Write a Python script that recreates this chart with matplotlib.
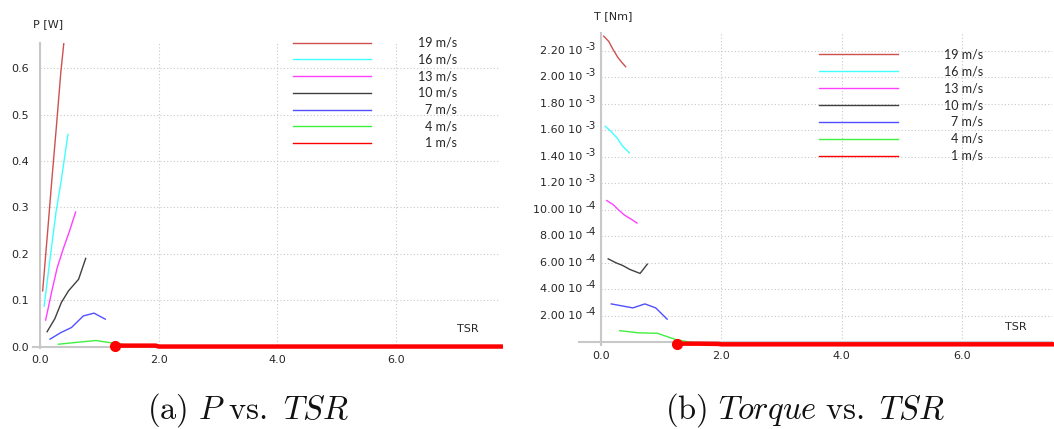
import matplotlib
matplotlib.use("Agg")
import matplotlib.pyplot as plt
from matplotlib.lines import Line2D
from matplotlib.transforms import offset_copy

plt.rcParams['font.family'] = ['DejaVu Sans']
plt.rcParams['mathtext.fontset'] = 'cm'

W, H = 1054, 429

# wind speeds (legend order) and colours
speeds = ["19 m/s", "16 m/s", "13 m/s", "10 m/s", "7 m/s", "4 m/s", "1 m/s"]
colors = ["#d05050", "#40ffff", "#ff40ff", "#404040", "#5050ff", "#40f040", "#ff0000"]

# TSR values for each wind speed
tsr_19 = [0.045, 0.13, 0.20, 0.28, 0.35, 0.41]
tsr_16 = [0.07, 0.17, 0.27, 0.36, 0.47]
tsr_13 = [0.095, 0.20, 0.29, 0.39, 0.50, 0.60]
tsr_10 = [0.12, 0.25, 0.36, 0.48, 0.65, 0.77]
tsr_7 = [0.17, 0.35, 0.53, 0.73, 0.91, 1.10]
tsr_4 = [0.31, 0.62, 0.94, 1.25, 1.56, 1.95]
tsr_1 = [1.27, 1.60, 1.95, 2.00, 4.00, 6.00, 7.80]

# power [W]
p_19 = [0.12, 0.25, 0.36, 0.48, 0.59, 0.665]
p_16 = [0.087, 0.19, 0.29, 0.36, 0.457]
p_13 = [0.057, 0.12, 0.17, 0.21, 0.25, 0.29]
p_10 = [0.032, 0.06, 0.095, 0.12, 0.145, 0.19]
p_7 = [0.016, 0.03, 0.041, 0.066, 0.072, 0.059]
p_4 = [0.005, 0.009, 0.013, 0.007, 0.002, 0.0]
p_1 = [0.002, 0.002, 0.002, 0.0, 0.0, 0.0, 0.0]

# torque [Nm]
t_19 = [2.31e-3, 2.27e-3, 2.21e-3, 2.15e-3, 2.11e-3, 2.08e-3]
t_16 = [1.63e-3, 1.59e-3, 1.54e-3, 1.48e-3, 1.43e-3]
t_13 = [1.07e-3, 1.04e-3, 1.00e-3, 0.96e-3, 0.93e-3, 0.90e-3]
t_10 = [0.63e-3, 0.60e-3, 0.58e-3, 0.55e-3, 0.52e-3, 0.59e-3]
t_7 = [0.29e-3, 0.275e-3, 0.26e-3, 0.29e-3, 0.26e-3, 0.175e-3]
t_4 = [0.088e-3, 0.072e-3, 0.068e-3, 0.02e-3, -0.005e-3, -0.005e-3]
t_1 = [-0.01e-3, -0.01e-3, -0.012e-3, -0.015e-3, -0.015e-3, -0.015e-3, -0.015e-3]

x_ticks = [0, 2, 4, 6]
x_labels = ["0.0", "2.0", "4.0", "6.0"]
p_ticks = [0.0, 0.1, 0.2, 0.3, 0.4, 0.5, 0.6]
p_labels = ["0.0", "0.1", "0.2", "0.3", "0.4", "0.5", "0.6"]
t_ticks = [0.2e-3, 0.4e-3, 0.6e-3, 0.8e-3, 1.0e-3, 1.2e-3, 1.4e-3, 1.6e-3, 1.8e-3, 2.0e-3, 2.2e-3]
t_mant = ["2.00", "4.00", "6.00", "8.00", "10.00", "1.20", "1.40", "1.60", "1.80", "2.00", "2.20"]
t_exp = ["-4", "-4", "-4", "-4", "-4", "-3", "-3", "-3", "-3", "-3", "-3"]

tsr_all = [tsr_19, tsr_16, tsr_13, tsr_10, tsr_7, tsr_4, tsr_1]
p_all = [p_19, p_16, p_13, p_10, p_7, p_4, p_1]
t_all = [t_19, t_16, t_13, t_10, t_7, t_4, t_1]

GRAY = "#c8c8c8"
TXT = "#262626"


def fx(px):
    return px / W


def fy(py):
    return 1 - py / H


fig = plt.figure(figsize=(W / 100, H / 100), dpi=100)


def setup(ax, xmax, ylim, ypad):
    ax.set_xlim(0, xmax)
    ax.set_ylim(*ylim)
    for s in ["top", "right"]:
        ax.spines[s].set_visible(False)
    ax.spines["bottom"].set_position(("data", 0))
    for s in ["left", "bottom"]:
        ax.spines[s].set_color(GRAY)
        ax.spines[s].set_linewidth(1.5)
    ax.set_xticks(x_ticks)
    ax.set_xticklabels(x_labels)
    ax.tick_params(axis="both", length=0, labelsize=8, colors=TXT)
    ax.tick_params(axis="x", pad=6)
    ax.tick_params(axis="y", pad=ypad)
    ax.grid(True, color=GRAY, linestyle=(0, (1, 2)), linewidth=0.8)
    ax.set_axisbelow(True)


ax_p = fig.add_axes([fx(40), fy(348.4), fx(500 - 40), (348.4 - 42.7) / H])
ax_t = fig.add_axes([fx(601), fy(345), fx(1052 - 601), (345 - 33) / H])

setup(ax_p, 7.75, (-0.004, 0.655), 8)
ax_p.set_yticks(p_ticks)
ax_p.set_yticklabels(p_labels)

setup(ax_t, 7.5, (-0.02e-3, 2.334e-3), 3)
ax_t.set_yticks(t_ticks)
ax_t.set_yticklabels([])
ytr = ax_t.get_yaxis_transform()
tr_base = offset_copy(ytr, fig=fig, x=-19, y=0, units="dots")
tr_exp = offset_copy(ytr, fig=fig, x=-15, y=4, units="dots")
for v, m, e in zip(t_ticks, t_mant, t_exp):
    ax_t.text(0, v, m + " 10", transform=tr_base, ha="right", va="center",
              fontsize=8, color=TXT, clip_on=False)
    ax_t.text(0, v, e, transform=tr_exp, ha="left", va="center",
              fontsize=7.5, color=TXT, clip_on=False)

for ax, ys in [(ax_p, p_all), (ax_t, t_all)]:
    for i, (xs, yv) in enumerate(zip(tsr_all, ys)):
        if i == 6:
            ax.plot(xs, yv, color=colors[i], lw=3.2, zorder=4, clip_on=False,
                    marker="o", markevery=[0], markersize=7, solid_capstyle="butt")
        else:
            ax.plot(xs, yv, color=colors[i], lw=1.0, zorder=3)

# x-axis line reaching a little left of the y axis
fig.add_artist(Line2D([fx(33), fx(40)], [fy(346.5), fy(346.5)], color=GRAY, lw=1.5))
fig.add_artist(Line2D([fx(579), fx(601)], [fy(342.3), fy(342.3)], color=GRAY, lw=1.5))

# axis titles
fig.text(fx(33), fy(24), "P [W]", fontsize=8, color=TXT, va="center", ha="left")
fig.text(fx(594), fy(16), "T [Nm]", fontsize=8, color=TXT, va="center", ha="left")
fig.text(fx(468), fy(329), "TSR", fontsize=8, color=TXT, va="center", ha="center")
fig.text(fx(1016), fy(327), "TSR", fontsize=8, color=TXT, va="center", ha="center")

# legends
for (lx0, lx1, tx, y0, dy) in [(293, 371, 457, 42.7, 16.7), (819, 898, 983, 54.3, 16.9)]:
    for i, lab in enumerate(speeds):
        yy = y0 + dy * i
        fig.add_artist(Line2D([fx(lx0), fx(lx1)], [fy(yy), fy(yy)], color=colors[i], lw=1.0))
        fig.text(fx(tx), fy(yy), lab, fontsize=9, family="Lato", color=TXT,
                 ha="right", va="center")

# captions
fig.text(fx(248), fy(418.5), r"$\mathrm{(a)}\ P\ \mathrm{vs.}\ TSR$", fontsize=23.5,
         ha="center", va="baseline", color="#111111")
fig.text(fx(805), fy(418.5), r"$\mathrm{(b)}\ Torque\ \mathrm{vs.}\ TSR$", fontsize=23.5,
         ha="center", va="baseline", color="#111111")

fig.savefig("out.png", dpi=100)
